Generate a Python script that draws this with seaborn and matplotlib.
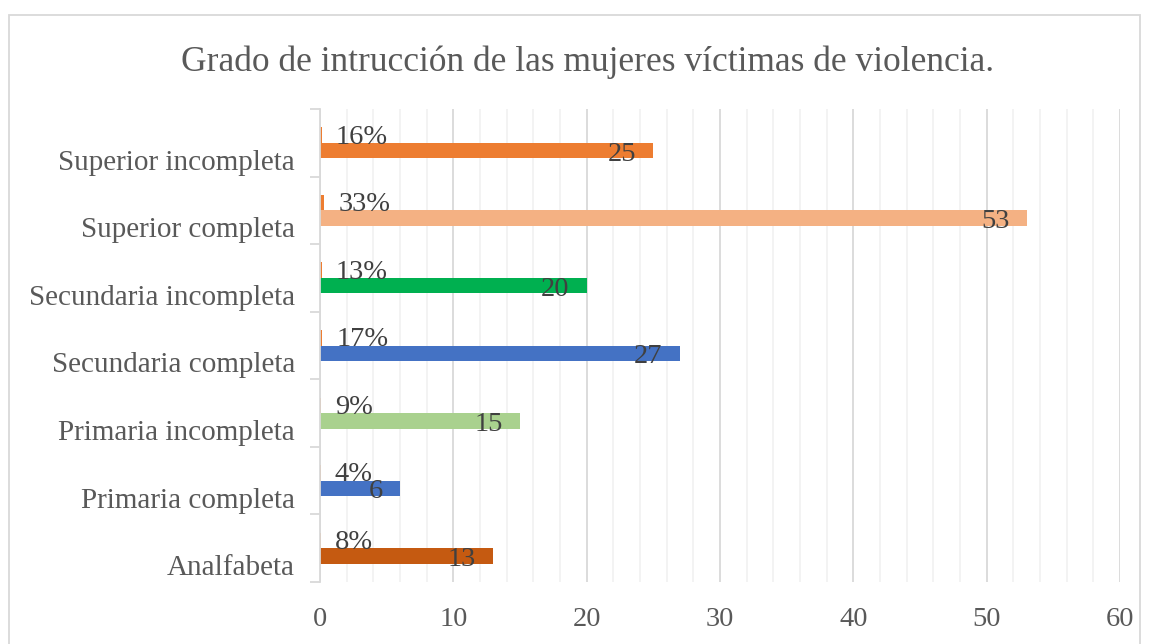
import pandas as pd
import matplotlib
matplotlib.use('Agg')
import matplotlib.pyplot as plt
import seaborn as sns
from matplotlib.patches import Rectangle
from matplotlib.ticker import MultipleLocator

# data (top to bottom as in the chart)
categorias = ['Superior incompleta', 'Superior completa', 'Secundaria incompleta',
              'Secundaria completa', 'Primaria incompleta', 'Primaria completa', 'Analfabeta']
cantidad = [25, 53, 20, 27, 15, 6, 13]
porcentaje = [16, 33, 13, 17, 9, 4, 8]
colores = ['#ED7D31', '#F4B183', '#00B050', '#4472C4', '#A9D18E', '#4472C4', '#C55A11']
color_pct = '#ED7D31'

df = pd.concat([
    pd.DataFrame({'cat': categorias, 'valor': [p / 100 for p in porcentaje], 'serie': 'pct'}),
    pd.DataFrame({'cat': categorias, 'valor': cantidad, 'serie': 'n'}),
])

sns.set_style('white')
plt.rcParams['font.family'] = ['Liberation Serif', 'DejaVu Serif']

fig = plt.figure(figsize=(11.5, 6.44), dpi=100)
ax = fig.add_axes([320 / 1150, 1 - 582 / 644, 800 / 1150, 473 / 644])

sns.barplot(data=df, y='cat', x='valor', hue='serie', hue_order=['pct', 'n'],
            order=categorias, orient='h', width=0.46, dodge=True, legend=False,
            saturation=1, ax=ax)

cont_pct, cont_n = ax.containers
for p in cont_pct:
    p.set_facecolor(color_pct)
    p.set_edgecolor('none')
for p, c in zip(cont_n, colores):
    p.set_facecolor(c)
    p.set_edgecolor('none')

# data labels
for p, v in zip(cont_pct, porcentaje):
    yc = p.get_y() + p.get_height() / 2
    ax.annotate(f'{v}%', xy=(p.get_width(), yc), xytext=(10, -1.5), textcoords='offset points',
                ha='left', va='center', fontsize=20.5, color='#404040')
for p, v in zip(cont_n, cantidad):
    yc = p.get_y() + p.get_height() / 2
    ax.annotate(str(v), xy=(p.get_width(), yc), xytext=(-12.5, -2.5), textcoords='offset points',
                ha='right', va='center', fontsize=20.5, color='#404040')

ax.set_xlim(0, 60)
ax.set_ylim(6.5, -0.5)
ax.xaxis.set_major_locator(MultipleLocator(10))
ax.xaxis.set_minor_locator(MultipleLocator(2))
ax.grid(which='major', axis='x', color='#D9D9D9', linewidth=1.3)
ax.grid(which='minor', axis='x', color='#F2F2F2', linewidth=1.3)
ax.set_axisbelow(True)

pos = list(range(len(categorias)))
ax.set_yticks([i + 0.25 for i in pos])
ax.set_yticklabels(categorias)
ax.set_yticks([i - 0.5 for i in pos] + [6.5], minor=True)
ax.tick_params(axis='y', which='major', length=0, pad=18, labelsize=21, labelcolor='#595959')
ax.tick_params(axis='y', which='minor', length=7, width=1.3, color='#D9D9D9', left=True)
ax.tick_params(axis='x', which='both', length=0, pad=18, labelsize=20.5, labelcolor='#595959')
ax.set_xlabel('')
ax.set_ylabel('')

for s in ['top', 'right', 'bottom']:
    ax.spines[s].set_visible(False)
ax.spines['left'].set_color('#D9D9D9')
ax.spines['left'].set_linewidth(1.3)

fig.text(588 / 1150, 1 - 62 / 644, 'Grado de intrucción de las mujeres víctimas de violencia.',
         ha='center', va='center', fontsize=25.5, color='#595959')

# outer chart border
fig.patches.append(Rectangle((9 / 1150, -0.05), 1131 / 1150, 1.05 - 15 / 644,
                             transform=fig.transFigure, fill=False,
                             edgecolor='#D9D9D9', linewidth=1.3))

fig.savefig('out.png', dpi=100)
